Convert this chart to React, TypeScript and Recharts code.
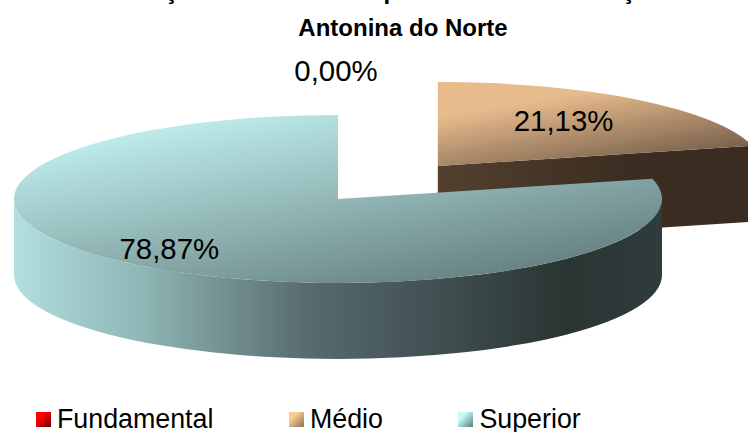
import React from 'react';
import { PieChart, Pie, Legend } from 'recharts';

const levels = ['Fundamental', 'Médio', 'Superior'];
const shares = [0, 21.13, 78.87];
const titleLines = ['Formação dos Docentes por Níveis de Formação em', 'Antonina do Norte'];

const chartData = levels.map((name, i) => ({ name, value: shares[i] }));

const RADIUS = 324;
const TILT = 84 / 324;
const DEPTH = 76;
const EXPLODE = [0, 162, 0];
const LABEL_REACH = [
  { x: 0, y: 1.525 },
  { x: 0.63, y: 0.68 },
  { x: 0.845, y: 0.75 },
];
const FONT = '"Liberation Sans", Arial, sans-serif';
const RAD = Math.PI / 180;

const topFill = ['url(#topRed)', 'url(#topBrown)', 'url(#topTeal)'];
const wallFill = ['url(#wallRed)', 'url(#wallBrown)', 'url(#wallTeal)'];
const legendSwatch = [
  'linear-gradient(135deg,#ff0000 35%,#6a0000)',
  'linear-gradient(135deg,#fccb94 30%,#8d6f50)',
  'linear-gradient(135deg,#c2fbfb 30%,#5d7c7c)',
];

function centre(cx: number, cy: number, index: number, startAngle: number, endAngle: number) {
  const mid = ((startAngle + endAngle) / 2) * RAD;
  const push = EXPLODE[index] || 0;
  return { x: cx + push * Math.cos(mid), y: cy - push * Math.sin(mid) * TILT };
}

function Slice3D(props: any) {
  const { cx, cy, outerRadius, startAngle, endAngle, index } = props;
  if (Math.abs(startAngle - endAngle) < 0.01) return <g />;
  const c = centre(cx, cy, index, startAngle, endAngle);
  const rx = outerRadius;
  const ry = outerRadius * TILT;
  const pt = (deg: number, dy = 0) => ({
    x: c.x + rx * Math.cos(deg * RAD),
    y: c.y - ry * Math.sin(deg * RAD) + dy,
  });
  const a = pt(startAngle);
  const b = pt(endAngle);
  const large = startAngle - endAngle > 180 ? 1 : 0;
  const top = `M${c.x},${c.y} L${a.x},${a.y} A${rx},${ry} 0 ${large} 1 ${b.x},${b.y} Z`;

  // visible outer wall: the front half of the ellipse (angles between 0 and -180)
  const from = Math.min(startAngle, 0);
  const to = Math.max(endAngle, -180);
  const walls: string[] = [];
  if (from > to) {
    const p = pt(from);
    const q = pt(to);
    const q2 = pt(to, DEPTH);
    const p2 = pt(from, DEPTH);
    walls.push(
      `M${p.x},${p.y} A${rx},${ry} 0 0 1 ${q.x},${q.y} L${q2.x},${q2.y} A${rx},${ry} 0 0 0 ${p2.x},${p2.y} Z`,
    );
  }
  // radial face turned to the viewer
  let cut = '';
  if (endAngle > -180 && endAngle < 90 && endAngle > 0) {
    const b2 = pt(endAngle, DEPTH);
    cut = `M${c.x},${c.y} L${b.x},${b.y} L${b2.x},${b2.y} L${c.x},${c.y + DEPTH} Z`;
  }
  return (
    <g>
      {cut && <path d={cut} fill={wallFill[index]} />}
      {walls.map((d) => (
        <path key={d} d={d} fill={wallFill[index]} />
      ))}
      <path d={top} fill={topFill[index]} />
    </g>
  );
}

function SliceLabel(props: any) {
  const { cx, cy, outerRadius, startAngle, endAngle, index, value } = props;
  const c = centre(cx, cy, index, startAngle, endAngle);
  const mid = ((startAngle + endAngle) / 2) * RAD;
  const reach = LABEL_REACH[index];
  const x = c.x + outerRadius * reach.x * Math.cos(mid);
  const y = c.y - outerRadius * TILT * reach.y * Math.sin(mid);
  return (
    <text
      x={index === 0 ? x - 2 : x}
      y={y}
      textAnchor="middle"
      dominantBaseline="central"
      fontFamily={FONT}
      fontSize={29.4}
      fill="#000"
    >
      {Number(value).toFixed(2).replace('.', ',') + '%'}
    </text>
  );
}

function LegendRow() {
  return (
    <div style={{ display: 'flex', gap: 75.5, paddingLeft: 36, fontFamily: FONT, fontSize: 26.8, lineHeight: '24px', color: '#000' }}>
      {levels.map((name, i) => (
        <div key={name} style={{ display: 'flex', alignItems: 'center', gap: 6 }}>
          <span style={{ display: 'block', width: 15, height: 15, background: legendSwatch[i] }} />
          <span>{name}</span>
        </div>
      ))}
    </div>
  );
}

export default function App() {
  return (
    <div style={{ position: 'absolute', left: 0, top: 0, width: 748, height: 432, overflow: 'hidden', background: '#fff' }}>
      <PieChart width={748} height={432} margin={{ top: 0, right: 0, bottom: 0, left: 0 }}>
        <defs>
          <linearGradient id="topRed" x1="0" y1="0" x2="1" y2="1">
            <stop offset="0" stopColor="#ff0000" />
            <stop offset="1" stopColor="#600000" />
          </linearGradient>
          <linearGradient id="wallRed" x1="0" y1="0" x2="1" y2="0">
            <stop offset="0" stopColor="#a00000" />
            <stop offset="1" stopColor="#300000" />
          </linearGradient>
          <linearGradient id="topBrown" x1="0.1" y1="0" x2="0.75" y2="1">
            <stop offset="0.25" stopColor="#e8bb8d" />
            <stop offset="1" stopColor="#6f5a46" />
          </linearGradient>
          <linearGradient id="wallBrown" x1="0" y1="0" x2="1" y2="0">
            <stop offset="0" stopColor="#53402f" />
            <stop offset="0.6" stopColor="#3c2d22" />
            <stop offset="1" stopColor="#3a2c21" />
          </linearGradient>
          <linearGradient id="topTeal" x1="0.1" y1="0" x2="0.85" y2="1">
            <stop offset="0.12" stopColor="#bce9e9" />
            <stop offset="1" stopColor="#5f7878" />
          </linearGradient>
          <linearGradient id="wallTeal" x1="0" y1="0" x2="1" y2="0">
            <stop offset="0" stopColor="#b2dfdf" />
            <stop offset="0.2" stopColor="#8fb5b5" />
            <stop offset="0.45" stopColor="#586b70" />
            <stop offset="0.85" stopColor="#2a3533" />
            <stop offset="1" stopColor="#2f3b3d" />
          </linearGradient>
        </defs>
        <text x={403} y={36} textAnchor="middle" fontFamily={FONT} fontWeight="bold" fontSize={24} fill="#000">
          {titleLines[1]}
        </text>
        <text x={398} y={-1} textAnchor="middle" fontFamily={FONT} fontWeight="bold" fontSize={24} letterSpacing={0.4} fill="#000">
          {titleLines[0]}
        </text>
        <Pie
          data={chartData}
          dataKey="value"
          nameKey="name"
          cx={338}
          cy={199}
          outerRadius={RADIUS}
          startAngle={90}
          endAngle={-270}
          stroke="none"
          shape={Slice3D}
          label={SliceLabel}
          labelLine={false}
          isAnimationActive={false}
        />
        <Legend content={LegendRow} wrapperStyle={{ left: 0, top: 407, width: 748 }} />
      </PieChart>
    </div>
  );
}
